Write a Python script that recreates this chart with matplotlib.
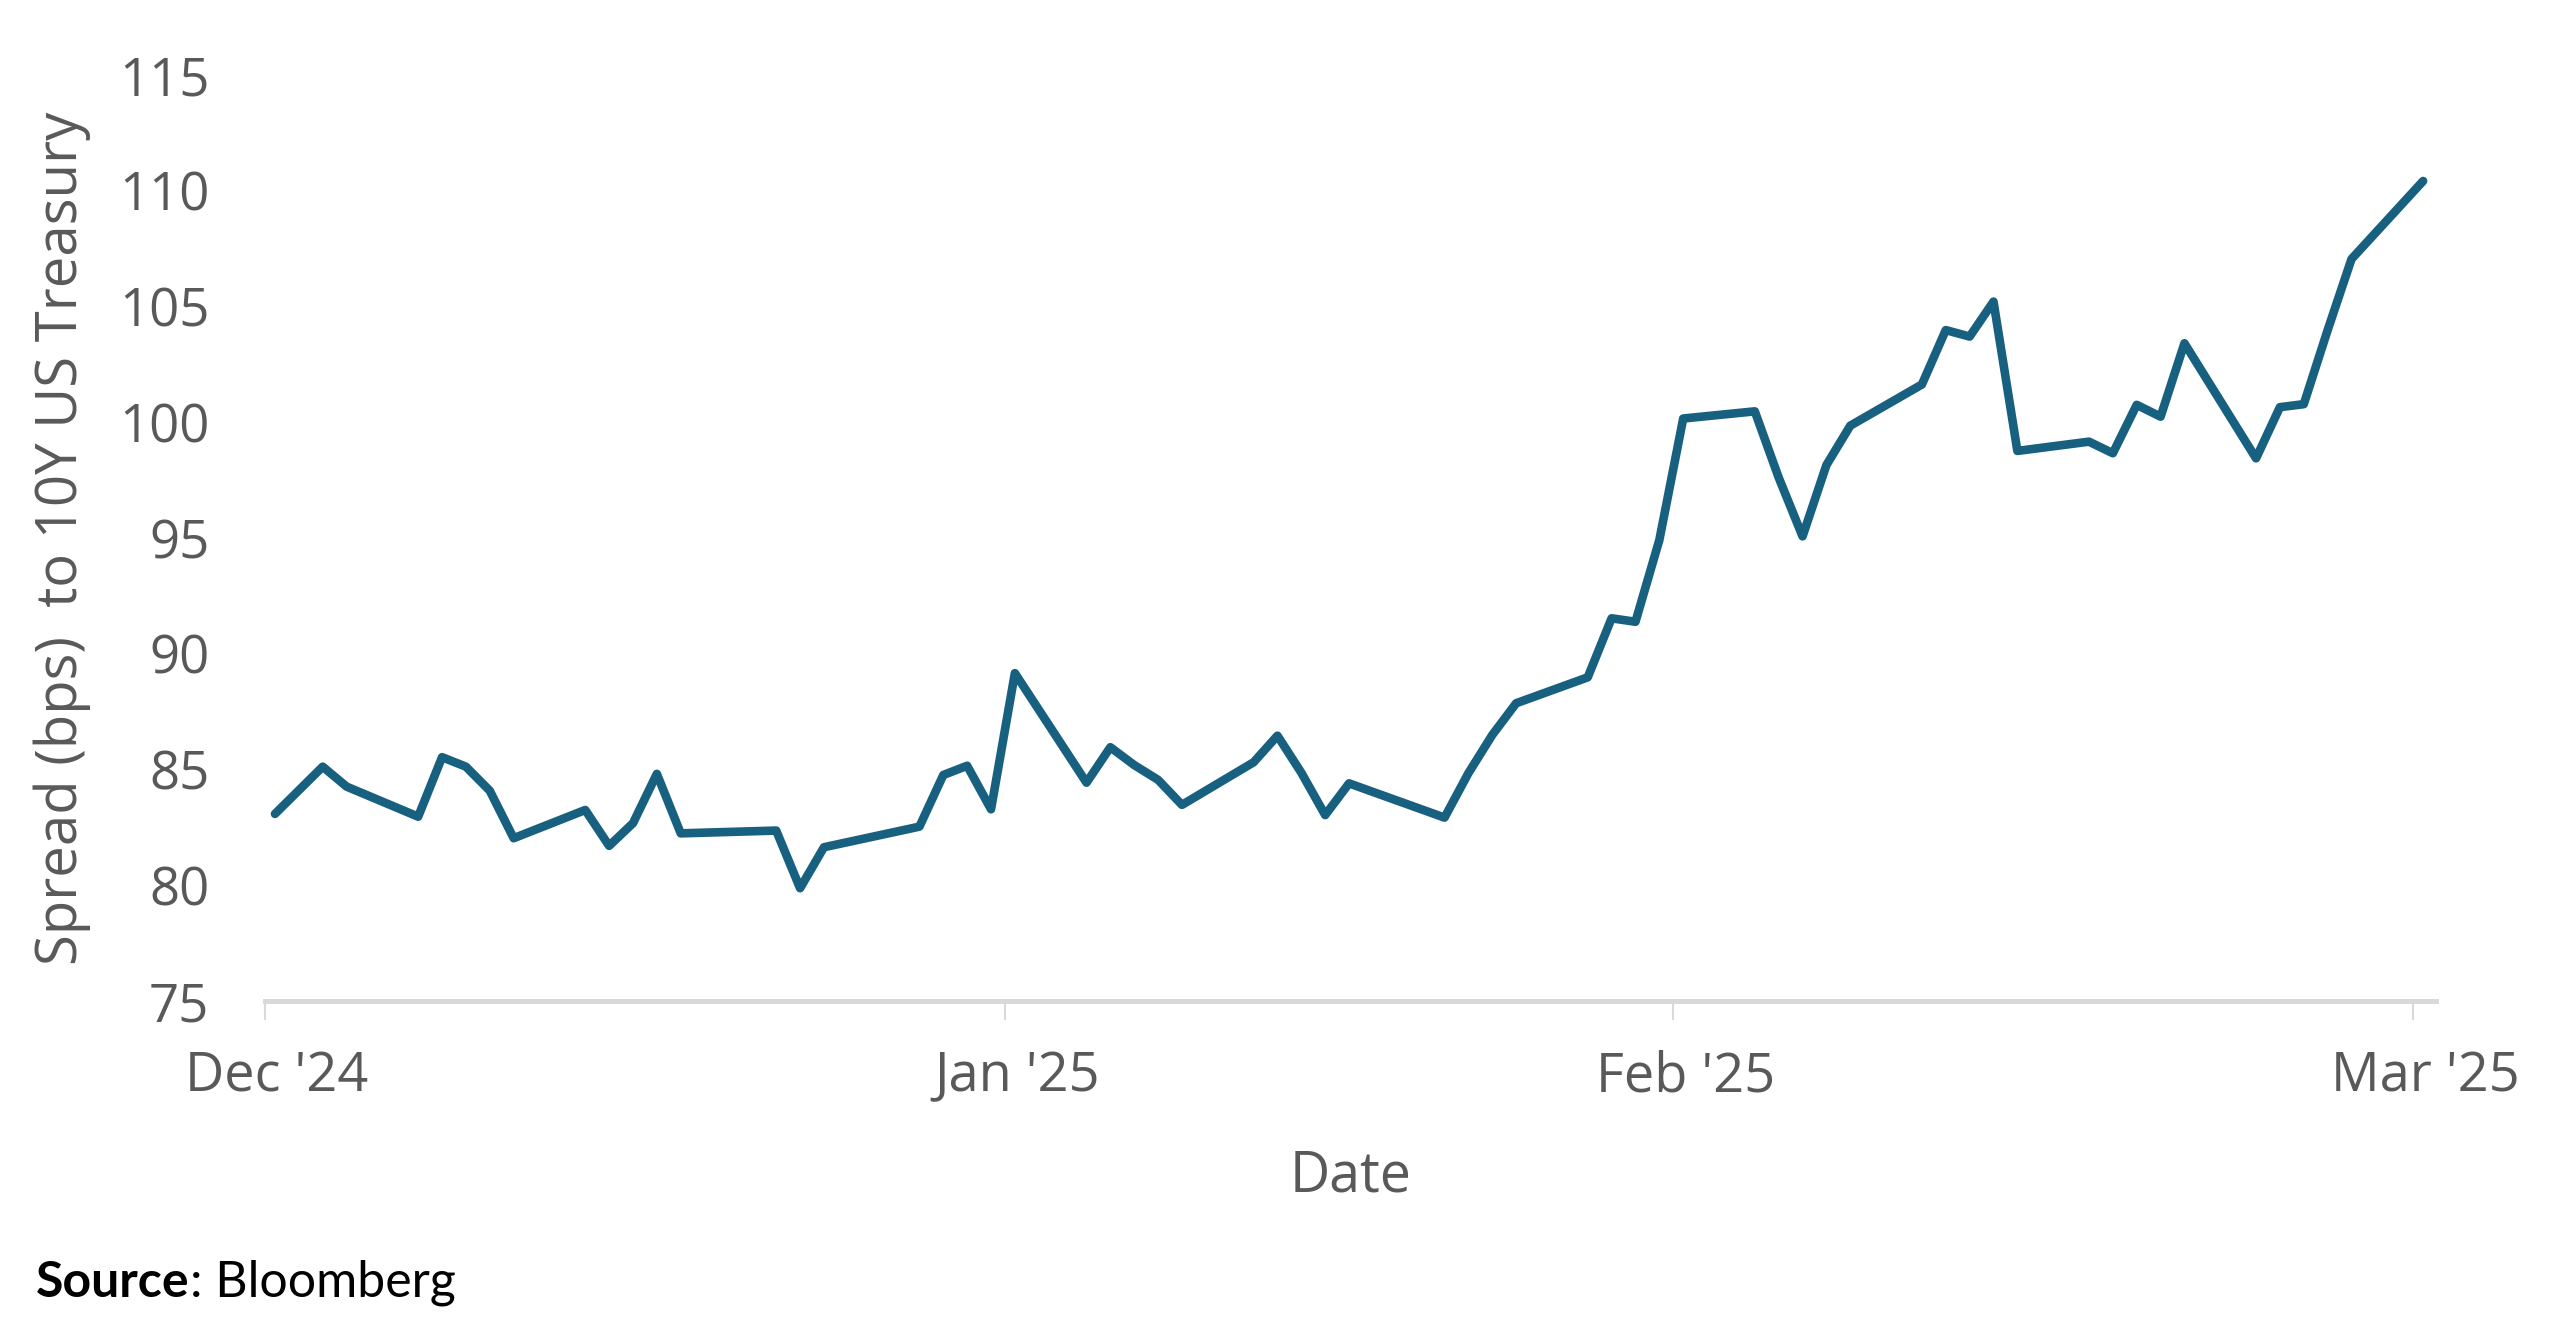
import matplotlib
matplotlib.use("Agg")
import matplotlib.pyplot as plt
import matplotlib.transforms as mtransforms

plt.rcParams['font.family'] = ['Open Sans', 'DejaVu Sans']

# day offset from first observation, spread in bps
days = [0, 2, 3, 6, 7, 8, 9, 10, 13, 14, 15, 16, 17, 21, 22, 23,
        27, 28, 29, 30, 31, 34, 35, 36, 37, 38, 41, 42, 43, 44, 45,
        49, 50, 51, 52, 55, 56, 57, 58, 59, 62, 63, 64, 65, 66,
        69, 70, 71, 72, 73, 76, 77, 78, 79, 80, 83, 84, 85, 86, 87, 90]
spread = [83.08, 85.12, 84.26, 82.96, 85.53, 85.12, 84.08, 82.03, 83.25, 81.70,
          82.68, 84.81, 82.24, 82.36, 79.87, 81.64,
          82.53, 84.76, 85.16, 83.28, 89.16, 84.43, 85.96, 85.19, 84.55, 83.47,
          85.31, 86.46, 84.86, 83.03, 84.40,
          82.92, 84.84, 86.49, 87.86, 88.98, 91.53, 91.38, 94.91, 100.16,
          100.47, 97.61, 95.07, 98.15, 99.85,
          101.63, 103.98, 103.70, 105.21, 98.76, 99.16, 98.66, 100.75, 100.24,
          103.41, 98.44, 100.65, 100.78, 103.98, 107.05, 110.42]

tick_pos = [-0.42, 30.58, 58.58, 89.58]
tick_labels = ["Dec '24", "Jan '25", "Feb '25", "Mar '25"]
y_ticks = [75, 80, 85, 90, 95, 100, 105, 110, 115]

txt = '#595959'
line_col = '#17607F'
axis_col = '#D9D9D9'

fig = plt.figure(figsize=(25.5, 13.27), dpi=100)
ax = fig.add_axes([0.1039, 0.2457, 0.8514, 0.6978])

ax.plot(days, spread, color=line_col, lw=6.2, solid_joinstyle='round',
        solid_capstyle='round', clip_on=False)

ax.set_xlim(-0.42, 90.54)
ax.set_ylim(75, 115)
ax.set_yticks(y_ticks)
ax.set_xticks(tick_pos)
ax.set_xticklabels(tick_labels)

for s in ['top', 'right', 'left']:
    ax.spines[s].set_visible(False)
ax.spines['bottom'].set_color(axis_col)
ax.spines['bottom'].set_linewidth(3.6)

ax.tick_params(axis='y', length=0, pad=40, labelsize=38, labelcolor=txt)
ax.tick_params(axis='x', length=14, width=1.5, color=axis_col, pad=21,
               labelsize=39, labelcolor=txt)

# labels in the original sit a little right of their ticks
shift = mtransforms.ScaledTranslation(0.12, 0, fig.dpi_scale_trans)
for lab in ax.get_xticklabels():
    lab.set_transform(lab.get_transform() + shift)

ax.set_ylabel("Spread (bps)  to 10Y US Treasury", fontsize=40.5, color=txt,
              va='center')
ax.yaxis.set_label_coords(-0.0935, 0.5)
ax.set_xlabel("Date", fontsize=40, color=txt, va='center')
ax.xaxis.set_label_coords(0.5, -0.19)

# source note: bold "Source" followed by normal text
src = fig.text(0.0141, 0.0335, "Source", fontsize=36, fontweight='bold',
               color='black', va='center', ha='left', family=['Lato', 'DejaVu Sans'])
fig.canvas.draw()
bb = src.get_window_extent()
fig.text(bb.x1 / fig.bbox.width, 0.0335, ": Bloomberg", fontsize=36,
         color='black', va='center', ha='left', family=['Lato', 'DejaVu Sans'])

fig.savefig("out.png", dpi=100, facecolor='white')
